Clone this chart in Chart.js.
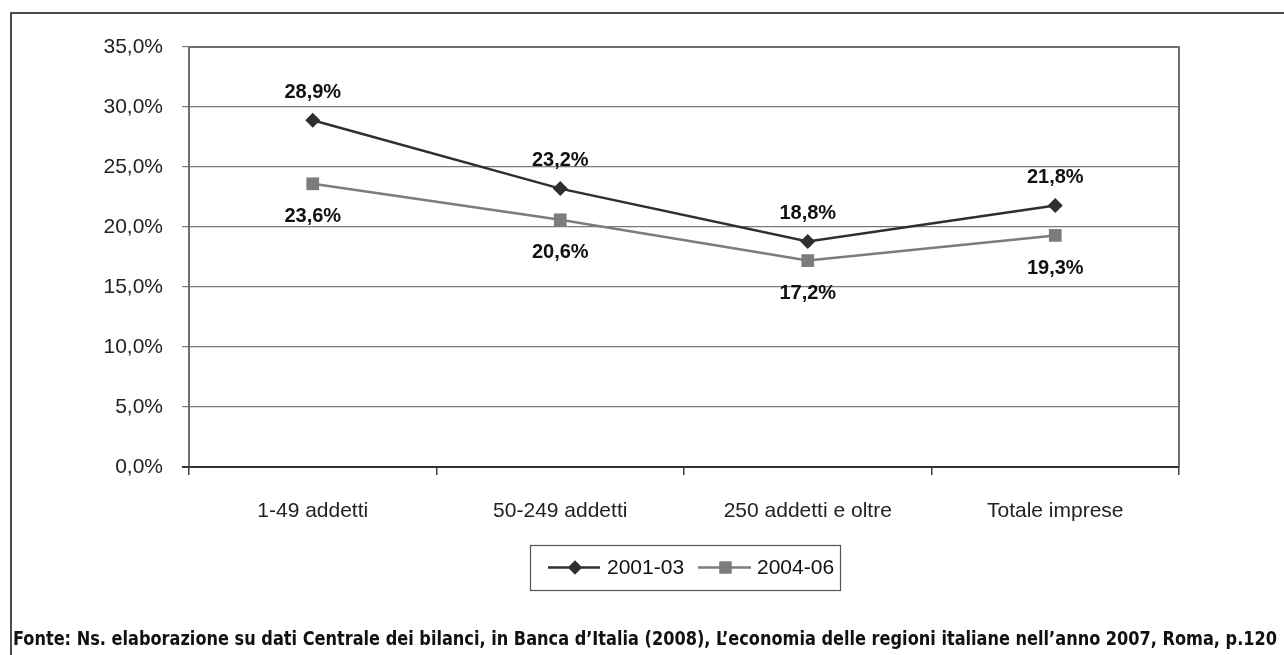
<!DOCTYPE html>
<html>
<head>
<meta charset="utf-8">
<script src="https://cdn.jsdelivr.net/npm/chart.js@4.4.1/dist/chart.umd.min.js"></script>
<style>
  html, body { margin: 0; padding: 0; background: #fff; }
  #wrap { width: 1284px; height: 655px; }
</style>
</head>
<body>
<div id="wrap"><canvas id="c" width="1284" height="655"></canvas></div>
<script>
// Categories and series (percent values)
const categories = ['1-49 addetti', '50-249 addetti', '250 addetti e oltre', 'Totale imprese'];
const series2001_03 = [28.9, 23.2, 18.8, 21.8];
const series2004_06 = [23.6, 20.6, 17.2, 19.3];
const seriesNames = ['2001-03', '2004-06'];
const yTicks = [0, 5, 10, 15, 20, 25, 30, 35];
const sourceNote = 'Fonte: Ns. elaborazione su dati Centrale dei bilanci, in Banca d\u2019Italia (2008), L\u2019economia delle regioni italiane nell\u2019anno 2007, Roma, p.120';

const FONT = "'Liberation Sans', Arial, sans-serif";
const fmt = v => v.toFixed(1).replace('.', ',') + '%';

const DARK = '#2f2f2f';
const GREY = '#7c7c7c';

// Page frame, plot border, value labels, legend and source note
const decorations = {
  id: 'decorations',
  beforeDraw(chart) {
    const ctx = chart.ctx;
    ctx.save();
    ctx.fillStyle = '#fff';
    ctx.fillRect(0, 0, chart.width, chart.height);
    ctx.strokeStyle = '#111';
    ctx.lineWidth = 1.5;
    ctx.beginPath();
    ctx.moveTo(11, chart.height + 5);
    ctx.lineTo(11, 13);
    ctx.lineTo(chart.width + 5, 13);
    ctx.stroke();
    ctx.restore();
  },
  beforeDatasetsDraw(chart) {
    const ctx = chart.ctx;
    const a = chart.chartArea;
    ctx.save();
    ctx.strokeStyle = '#6f6f6f';
    ctx.lineWidth = 2;
    ctx.beginPath();
    ctx.moveTo(a.left, a.bottom);
    ctx.lineTo(a.left, a.top);
    ctx.lineTo(a.right, a.top);
    ctx.lineTo(a.right, a.bottom);
    ctx.stroke();
    ctx.strokeStyle = '#333';
    ctx.beginPath();
    ctx.moveTo(a.left - 7, a.bottom);
    ctx.lineTo(a.right, a.bottom);
    ctx.stroke();
    ctx.restore();
  },
  afterDatasetsDraw(chart) {
    const ctx = chart.ctx;
    ctx.save();
    ctx.font = 'bold 20px ' + FONT;
    ctx.fillStyle = '#111';
    ctx.textAlign = 'center';
    ctx.textBaseline = 'middle';
    const offsets = [-28, 33];
    chart.data.datasets.forEach((ds, di) => {
      const meta = chart.getDatasetMeta(di);
      meta.data.forEach((pt, i) => {
        ctx.fillText(fmt(ds.data[i]), pt.x, pt.y + offsets[di]);
      });
    });

    // Legend
    const bx = 530, by = 545, bw = 310, bh = 45, cy = by + bh / 2;
    ctx.strokeStyle = '#555';
    ctx.lineWidth = 1.2;
    ctx.strokeRect(bx + 0.5, by + 0.5, bw, bh);
    const items = [
      { x0: 548, x1: 600, tx: 607, color: DARK, style: 'rectRot', r: 7 },
      { x0: 698, x1: 751, tx: 757, color: GREY, style: 'rect', r: 8.5 }
    ];
    ctx.font = '21px ' + FONT;
    ctx.textAlign = 'left';
    items.forEach((it, i) => {
      ctx.strokeStyle = it.color;
      ctx.lineWidth = 2.5;
      ctx.beginPath();
      ctx.moveTo(it.x0, cy);
      ctx.lineTo(it.x1, cy);
      ctx.stroke();
      ctx.fillStyle = it.color;
      Chart.helpers.drawPoint(ctx, { pointStyle: it.style, radius: it.r, borderWidth: 0 }, (it.x0 + it.x1) / 2 + 1, cy);
      ctx.fill();
      ctx.fillStyle = '#111';
      ctx.fillText(seriesNames[i], it.tx, cy + 1);
    });

    // Source note, fitted to the frame width
    ctx.font = "bold 19px 'Liberation Sans Narrow', 'DejaVu Sans Condensed', " + FONT;
    ctx.fillStyle = '#111';
    ctx.textAlign = 'left';
    ctx.textBaseline = 'middle';
    const target = 1277 - 13;
    const w = ctx.measureText(sourceNote).width;
    ctx.translate(13, 640);
    ctx.scale(target / w, 1);
    ctx.fillText(sourceNote, 0, 0);
    ctx.restore();
  }
};

new Chart(document.getElementById('c'), {
  type: 'line',
  data: {
    labels: categories,
    datasets: [
      {
        label: seriesNames[0],
        data: series2001_03,
        borderColor: DARK,
        backgroundColor: DARK,
        borderWidth: 2.5,
        pointStyle: 'rectRot',
        pointRadius: 7.5,
        pointBorderWidth: 0,
        tension: 0
      },
      {
        label: seriesNames[1],
        data: series2004_06,
        borderColor: GREY,
        backgroundColor: GREY,
        borderWidth: 2.5,
        pointStyle: 'rect',
        pointRadius: 9,
        pointBorderWidth: 0,
        tension: 0
      }
    ]
  },
  options: {
    responsive: false,
    devicePixelRatio: 1,
    animation: false,
    layout: { padding: { left: 0, top: 47, right: 105, bottom: 0 } },
    plugins: {
      legend: { display: false },
      tooltip: { enabled: false },
      title: { display: false }
    },
    scales: {
      x: {
        type: 'category',
        offset: true,
        border: { display: false },
        grid: { display: true, drawOnChartArea: false, drawTicks: true, tickLength: 8, color: '#444', lineWidth: 1.5, offset: true },
        ticks: { color: '#222', font: { family: FONT, size: 21 }, padding: 24, maxRotation: 0 },
        afterFit(scale) { scale.height = 188; }
      },
      y: {
        min: 0,
        max: 35,
        border: { display: false },
        afterBuildTicks(scale) { scale.ticks = yTicks.map(v => ({ value: v })); },
        grid: { color: '#7a7a7a', lineWidth: 1.2, tickLength: 7, drawTicks: true },
        ticks: { color: '#222', font: { family: FONT, size: 21 }, padding: 19, callback: v => fmt(v) },
        afterFit(scale) { scale.width = 189; }
      }
    }
  },
  plugins: [decorations]
});
</script>
</body>
</html>
